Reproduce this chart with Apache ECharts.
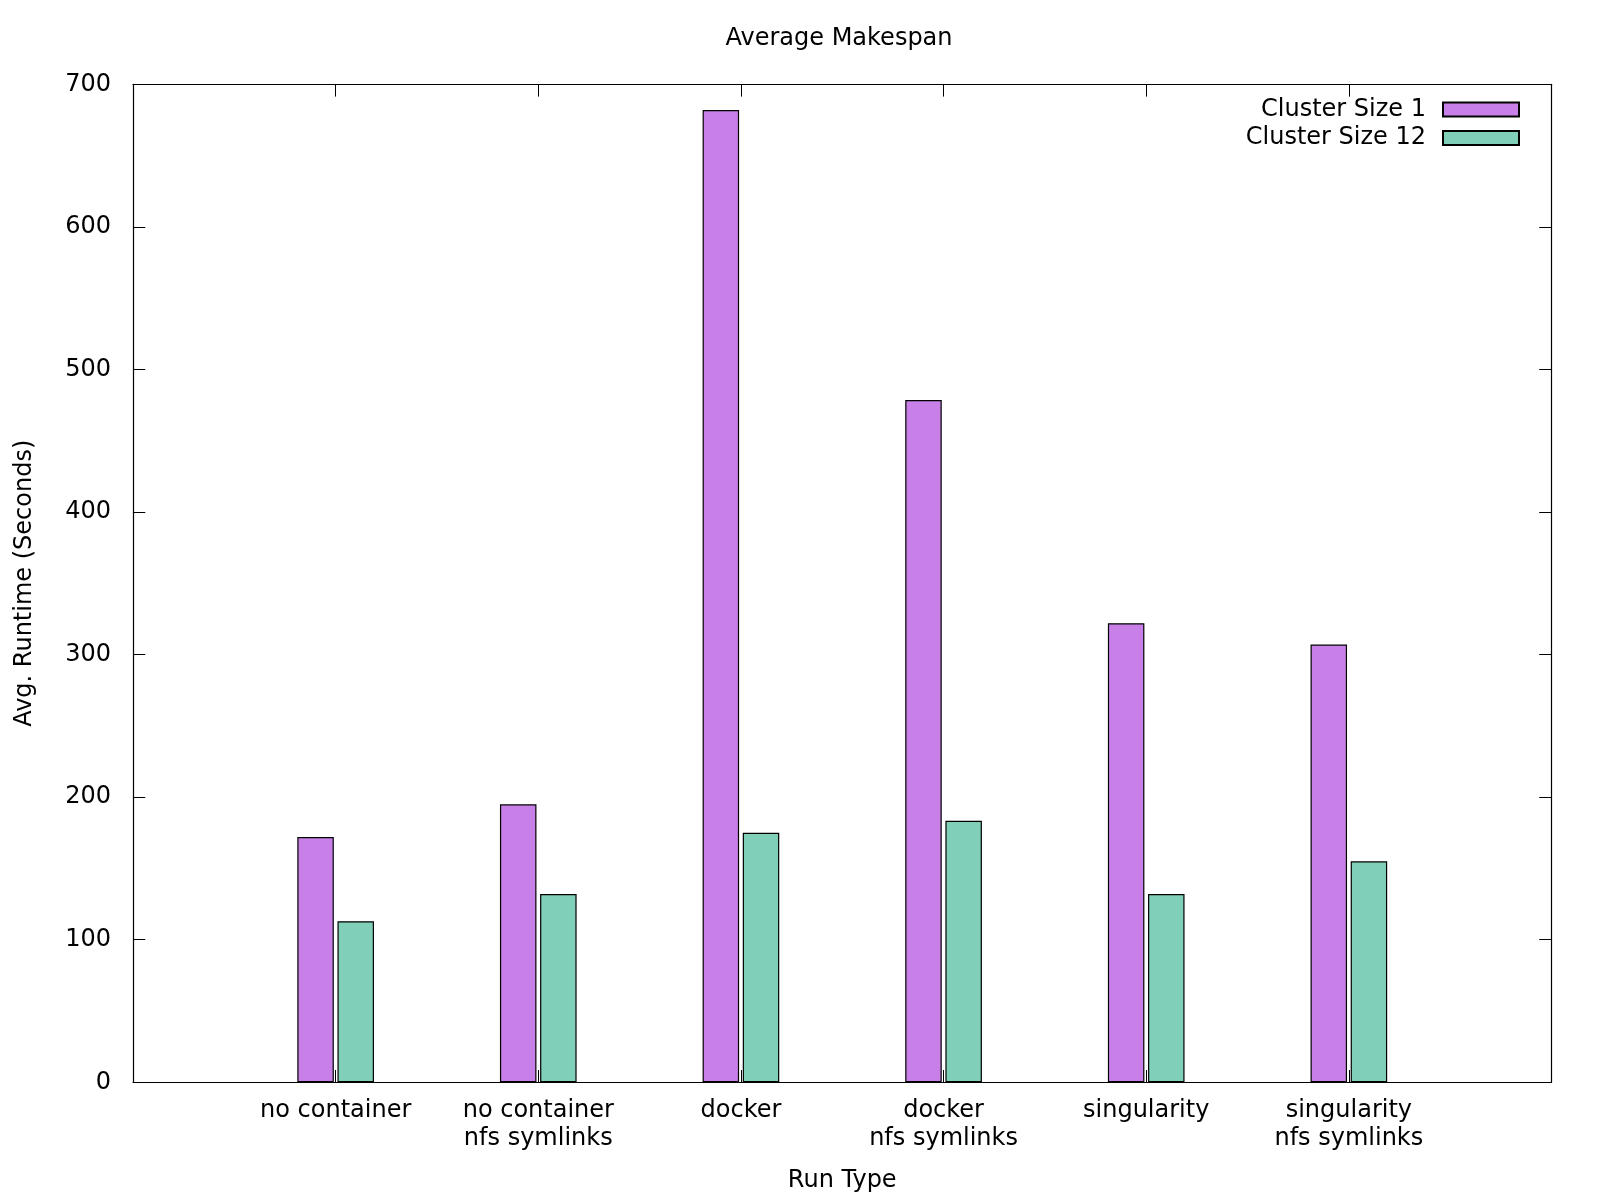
<!DOCTYPE html>
<html>
<head>
<meta charset="utf-8">
<script src="https://cdn.jsdelivr.net/npm/echarts@6/dist/echarts.min.js"></script>
<style>html,body{margin:0;padding:0;background:#fff}#c{width:1600px;height:1200px}</style>
</head>
<body>
<div id="c"></div>
<script>
const categories = ['no container', 'no container\nnfs symlinks', 'docker', 'docker\nnfs symlinks', 'singularity', 'singularity\nnfs symlinks'];
const clusterSize1 = [172, 195, 682, 478.5, 322, 307];
const clusterSize12 = [113, 132, 175, 183.5, 132, 155];
const yTicks = [0, 100, 200, 300, 400, 500, 600, 700];

const FONT = 'DejaVu Sans';
const FS = 24;
const slots = [''].concat(categories, ['']);
const pad = arr => ['-'].concat(arr, ['-']);

const chart = echarts.init(document.getElementById('c'));
const tick = {show: true, inside: true, length: 12.3, lineStyle: {color: '#000', width: 1}};
const line = {show: true, onZero: false, lineStyle: {color: '#000', width: 1.2}};
chart.setOption({
  backgroundColor: '#fff',
  animation: false,
  title: {
    text: 'Average Makespan',
    left: 839, top: 27, textAlign: 'center', padding: 0,
    textStyle: {fontFamily: FONT, fontSize: FS, fontWeight: 'normal', color: '#000'}
  },
  legend: {
    orient: 'vertical', align: 'right', right: 80, top: 97.5, padding: 0,
    itemWidth: 76, itemHeight: 14, itemGap: 4.4, icon: 'rect',
    textStyle: {fontFamily: FONT, fontSize: FS, color: '#000', lineHeight: 24, padding: [0, 12, 0, 0]},
    data: ['Cluster Size 1', 'Cluster Size 12']
  },
  grid: {left: 133, right: 48.5, top: 84.3, bottom: 117.7, containLabel: false},
  xAxis: [{
    type: 'category', data: slots, boundaryGap: false, position: 'bottom',
    axisLine: line, axisTick: tick,
    axisLabel: {fontFamily: FONT, fontSize: FS, color: '#000', margin: 14.5, lineHeight: 28, interval: 0},
    name: 'Run Type', nameLocation: 'middle', nameGap: 86,
    nameTextStyle: {fontFamily: FONT, fontSize: FS, color: '#000'},
    splitLine: {show: false}
  }, {
    type: 'category', data: slots, boundaryGap: false, position: 'top',
    axisLine: line, axisTick: tick, axisLabel: {show: false}, splitLine: {show: false}
  }],
  yAxis: [{
    type: 'value', min: yTicks[0], max: yTicks[yTicks.length - 1], interval: 100, position: 'left',
    axisLine: line, axisTick: tick,
    axisLabel: {fontFamily: FONT, fontSize: FS, color: '#000', margin: 22},
    name: 'Avg. Runtime (Seconds)', nameLocation: 'middle', nameGap: 96, nameRotate: 90,
    nameTextStyle: {fontFamily: FONT, fontSize: FS, color: '#000'},
    splitLine: {show: false}
  }, {
    type: 'value', min: yTicks[0], max: yTicks[yTicks.length - 1], interval: 100, position: 'right',
    axisLine: line, axisTick: tick, axisLabel: {show: false}, splitLine: {show: false}
  }],
  series: [{
    name: 'Cluster Size 1', type: 'bar', data: pad(clusterSize1),
    barWidth: 36.5, barGap: '10%',
    itemStyle: {color: '#c880e8', borderColor: '#000', borderWidth: 1.2}
  }, {
    name: 'Cluster Size 12', type: 'bar', data: pad(clusterSize12),
    barWidth: 36.5, barGap: '10%',
    itemStyle: {color: '#80cfb9', borderColor: '#000', borderWidth: 1.2}
  }]
});
</script>
</body>
</html>
